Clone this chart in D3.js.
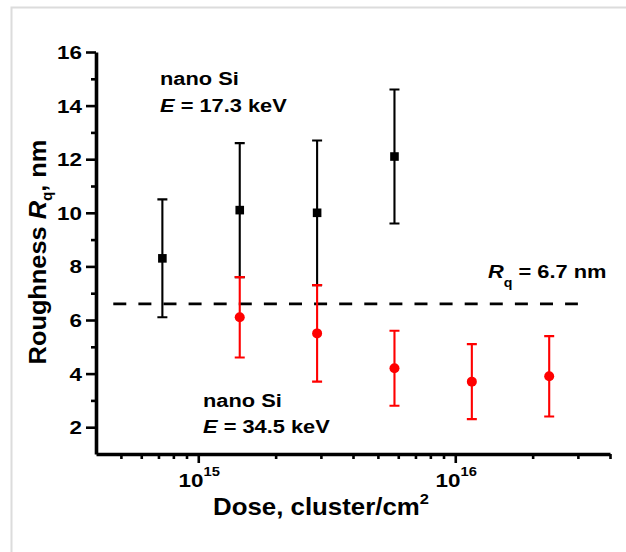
<!DOCTYPE html>
<html>
<head>
<meta charset="utf-8">
<script src="https://cdn.jsdelivr.net/npm/d3@7"></script>
<style>
  body { margin: 0; background: #fff; }
  svg { display: block; font-family: "Liberation Sans", Arial, sans-serif; }
</style>
</head>
<body>
<svg id="chart" width="626" height="552"></svg>
<script>
// doses (cluster/cm2)
const doseBlack = [7.25e14, 1.45e15, 2.9e15, 5.8e15];
const roughBlack = [8.3, 10.1, 10.0, 12.1];
const errBlack = [2.2, 2.5, 2.7, 2.5];

const doseRed = [1.45e15, 2.9e15, 5.8e15, 1.16e16, 2.32e16];
const roughRed = [6.1, 5.5, 4.2, 3.7, 3.9];
const errRed = [1.5, 1.8, 1.4, 1.4, 1.5];

const refLevel = 6.6;
const refSpan = [4.67e14, 3.0e16];

const yMajor = [2, 4, 6, 8, 10, 12, 14, 16];
const yMinor = [3, 5, 7, 9, 11, 13, 15];
const xMajor = [1e15, 1e16];
const xMajorExp = ["15", "16"];
const xMinor = [5e14, 6e14, 7e14, 8e14, 9e14, 2e15, 3e15, 4e15, 5e15, 6e15, 7e15, 8e15, 9e15, 2e16, 3e16, 4e16];

const svg = d3.select("#chart");
const sx = 1.18; // wide glyphs in the original

// light frame
svg.append("path")
  .attr("d", "M11.5,552 V7.5 H626")
  .attr("fill", "none")
  .attr("stroke", "#dcdcdc")
  .attr("stroke-width", 2);

const x = d3.scaleLog().domain([4e14, 4e16]).range([96, 610]);
const y = d3.scaleLinear().domain([1, 16]).range([454, 52]);

// axes
const gx = svg.append("g").attr("class", "axis").attr("transform", "translate(0,454)");
gx.call(d3.axisBottom(x).tickValues(xMajor).tickSize(9).tickSizeOuter(0).tickFormat(""));
gx.append("g").call(d3.axisBottom(x).tickValues(xMinor).tickSize(5).tickSizeOuter(0).tickFormat(""))
  .select(".domain").remove();

const gy = svg.append("g").attr("class", "axis").attr("transform", "translate(96,0)");
gy.call(d3.axisLeft(y).tickValues(yMajor).tickSize(10).tickSizeOuter(0).tickFormat(""));
gy.append("g").call(d3.axisLeft(y).tickValues(yMinor).tickSize(5).tickSizeOuter(0).tickFormat(""))
  .select(".domain").remove();

svg.selectAll(".axis line").attr("stroke", "#000").attr("stroke-width", 2.6);
svg.selectAll(".axis .domain").attr("stroke", "#000").attr("stroke-width", 3.6);

// y tick labels
svg.append("g").selectAll("text")
  .data(yMajor)
  .join("text")
  .attr("transform", d => `translate(82,${y(d) + 7}) scale(${sx},1)`)
  .attr("text-anchor", "end")
  .attr("font-size", 19)
  .attr("font-weight", "bold")
  .text(d => d);

// x tick labels 10^n
const xl = svg.append("g").selectAll("text")
  .data(xMajor)
  .join("text")
  .attr("transform", d => `translate(${x(d) + 1},487) scale(${sx},1)`)
  .attr("text-anchor", "middle")
  .attr("font-weight", "bold")
  .attr("font-size", 19);
xl.append("tspan").text("10");
xl.append("tspan").attr("font-size", 12.5).attr("dy", -11).text((d, i) => xMajorExp[i]);

// axis titles
const xt = svg.append("text")
  .attr("transform", "translate(213,515) scale(1.1,1)")
  .attr("font-size", 23.5)
  .attr("font-weight", "bold");
xt.append("tspan").text("Dose, cluster/cm");
xt.append("tspan").attr("font-size", 15).attr("dy", -11).text("2");

const yt = svg.append("text")
  .attr("transform", "translate(46,252) rotate(-90) scale(1.08,1)")
  .attr("text-anchor", "middle")
  .attr("font-size", 23.5)
  .attr("font-weight", "bold");
yt.append("tspan").text("Roughness ");
yt.append("tspan").attr("font-style", "italic").text("R");
yt.append("tspan").attr("font-size", 14).attr("dy", 6).text("q");
yt.append("tspan").attr("dy", -6).text(", nm");

// reference line
svg.append("line")
  .attr("x1", x(refSpan[0])).attr("x2", x(refSpan[1]))
  .attr("y1", y(refLevel)).attr("y2", y(refLevel))
  .attr("stroke", "#000")
  .attr("stroke-width", 2.6)
  .attr("stroke-dasharray", "13,12.1");

// error bars + markers
function drawSeries(doses, vals, errs, color, shape) {
  const g = svg.append("g");
  const rows = doses.map((d, i) => ({ d, v: vals[i], e: errs[i] }));
  const cap = 5;
  g.selectAll(".bar").data(rows).join("path")
    .attr("d", r => {
      const cx = x(r.d), y1 = y(r.v + r.e), y0 = y(r.v - r.e);
      return `M${cx},${y1}V${y0}M${cx - cap},${y1}H${cx + cap}M${cx - cap},${y0}H${cx + cap}`;
    })
    .attr("fill", "none")
    .attr("stroke", color)
    .attr("stroke-width", 2.1);
  if (shape === "square") {
    g.selectAll(".m").data(rows).join("rect")
      .attr("x", r => x(r.d) - 4.3).attr("y", r => y(r.v) - 4.3)
      .attr("width", 8.6).attr("height", 8.6)
      .attr("fill", color);
  } else {
    g.selectAll(".m").data(rows).join("circle")
      .attr("cx", r => x(r.d)).attr("cy", r => y(r.v))
      .attr("r", 5).attr("fill", color);
  }
}
drawSeries(doseBlack, roughBlack, errBlack, "#000", "square");
drawSeries(doseRed, roughRed, errRed, "#ff0000", "circle");

// annotations
function label(px, py, parts) {
  const t = svg.append("text")
    .attr("transform", `translate(${px},${py}) scale(${sx},1)`)
    .attr("font-size", 18.5)
    .attr("font-weight", "bold");
  parts.forEach(p => {
    const s = t.append("tspan").text(p.t);
    if (p.i) s.attr("font-style", "italic");
    if (p.size) s.attr("font-size", p.size);
    if (p.dy) s.attr("dy", p.dy);
  });
}
label(160, 85, [{ t: "nano Si" }]);
label(160, 112, [{ t: "E", i: true }, { t: " = 17.3 keV" }]);
label(203, 407, [{ t: "nano Si" }]);
label(203, 433, [{ t: "E", i: true }, { t: " = 34.5 keV" }]);
label(488, 278, [{ t: "R", i: true }, { t: "q", size: 12, dy: 9 }, { t: " = 6.7 nm", dy: -9 }]);
</script>
</body>
</html>
